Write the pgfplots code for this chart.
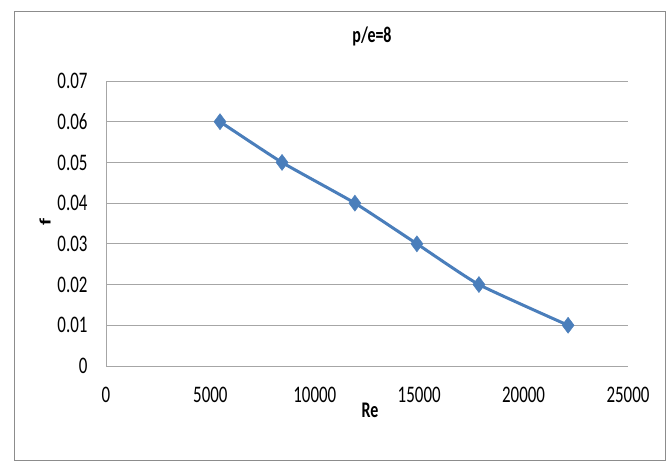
\documentclass[border=0pt]{standalone}
\usepackage{graphicx}
\usepackage{pgfplots}
\pgfplotsset{compat=1.18}
\usepackage{fontspec}
\setmainfont{Carlito}
\definecolor{serblue}{HTML}{4A7EBB}
\definecolor{gridgray}{HTML}{A6A6A6}
\definecolor{framegray}{HTML}{8C8C8C}
\newcommand\st[1]{\scalebox{1}[1.4]{#1}}
\begin{document}
\begin{tikzpicture}[x=1bp,y=1bp]
\path[use as bounding box] (-106,-98) rectangle (561,366);
\draw[framegray, line width=0.8bp] (-92,-94) rectangle (559,355);
\begin{axis}[
  at={(0,0)}, anchor=origin,
  scale only axis, width=522bp, height=285bp,
  xmin=0, xmax=25000, ymin=0, ymax=0.07,
  scaled ticks=false,
  xtick={0,5000,10000,15000,20000,25000},
  xticklabels={\st{0},\st{5000},\st{10000},\st{15000},\st{20000},\st{25000}},
  ytick={0,0.01,0.02,0.03,0.04,0.05,0.06,0.07},
  yticklabels={\st{0},\st{0.01},\st{0.02},\st{0.03},\st{0.04},\st{0.05},\st{0.06},\st{0.07}},
  axis x line*=bottom, axis y line*=left,
  axis line style={gridgray, line width=0.8bp, -},
  major tick length=0pt,
  ymajorgrids, major grid style={gridgray, line width=0.8bp},
  tick label style={font=\fontsize{17}{19}\selectfont, black},
  xticklabel style={anchor=center, yshift=-29bp},
  yticklabel style={anchor=east, xshift=-15bp},
  title={\st{\textbf{p/e=8}}},
  title style={font=\fontsize{16}{18}\selectfont, at={(0.5,1)}, anchor=center, yshift=39bp, xshift=5bp},
  xlabel={\st{\textbf{Re}}},
  label style={font=\fontsize{16}{18}\selectfont},
  xlabel style={at={(0.5,0)}, anchor=center, yshift=-44bp, xshift=3bp},
  clip=false,
]
\addplot[serblue, line width=3bp, smooth, tension=0.3, mark=diamond*, mark size=8bp, mark options={solid, fill=serblue, line width=0.5bp}]
  coordinates {(5460,0.06) (8430,0.05) (11920,0.04) (14890,0.03) (17860,0.02) (22130,0.01)};
\end{axis}
\node[rotate=90, inner sep=0pt, font=\fontsize{16}{18}\selectfont\bfseries] at (-61,144) {\scalebox{1.4}[1]{f}};
\end{tikzpicture}
\end{document}
